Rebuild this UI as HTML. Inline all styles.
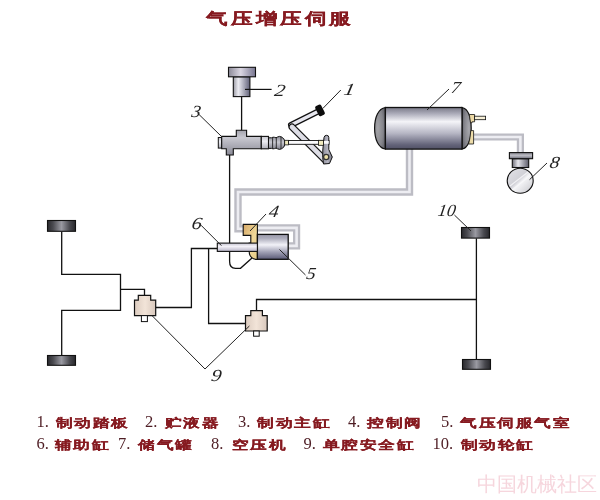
<!DOCTYPE html>
<html><head><meta charset="utf-8">
<style>
html,body{margin:0;padding:0;background:#fff;width:600px;height:500px;overflow:hidden}
svg{display:block;position:absolute;left:0;top:0;will-change:transform}
.t{font-family:"Liberation Sans",sans-serif;fill:#861a20;font-weight:bold;stroke:#861a20;stroke-width:0.25}
.num{font-family:"Liberation Serif",serif;fill:#4e1d24;font-size:16.5px}
.n{font-family:"Liberation Serif",serif;font-style:italic;fill:#222;font-size:17px}
</style></head>
<body>
<svg width="600" height="500" viewBox="0 0 600 500">
<defs>
  <linearGradient id="gCapH" x1="0" y1="0" x2="1" y2="0">
    <stop offset="0" stop-color="#8c8a98"/><stop offset="0.45" stop-color="#dad6e2"/><stop offset="1" stop-color="#777590"/>
  </linearGradient>
  <linearGradient id="gBodyH" x1="0" y1="0" x2="1" y2="0">
    <stop offset="0" stop-color="#9a9aa4"/><stop offset="0.3" stop-color="#ececf2"/><stop offset="1" stop-color="#62627a"/>
  </linearGradient>
  <linearGradient id="gCyl" x1="0" y1="0" x2="0" y2="1">
    <stop offset="0" stop-color="#a4a4ae"/><stop offset="0.3" stop-color="#c8c8d0"/><stop offset="1" stop-color="#8a8a96"/>
  </linearGradient>
  <linearGradient id="gCylL" x1="0" y1="0" x2="0" y2="1">
    <stop offset="0" stop-color="#c8c8d0"/><stop offset="0.4" stop-color="#ececf2"/><stop offset="1" stop-color="#b0b0ba"/>
  </linearGradient>
  <linearGradient id="gBell" x1="0" y1="0" x2="0" y2="1">
    <stop offset="0" stop-color="#8e8e98"/><stop offset="0.45" stop-color="#c8c8d0"/><stop offset="1" stop-color="#80808c"/>
  </linearGradient>
  <linearGradient id="gRod" x1="0" y1="0" x2="0" y2="1">
    <stop offset="0" stop-color="#c4c2d0"/><stop offset="0.4" stop-color="#f4f2f8"/><stop offset="1" stop-color="#b8b4c8"/>
  </linearGradient>
  <linearGradient id="gTank" x1="0" y1="0" x2="0" y2="1">
    <stop offset="0" stop-color="#7a7a88"/><stop offset="0.14" stop-color="#a9a9b7"/><stop offset="0.34" stop-color="#f4f4f8"/><stop offset="0.62" stop-color="#b6b6c4"/><stop offset="0.9" stop-color="#626278"/><stop offset="1" stop-color="#525266"/>
  </linearGradient>
  <radialGradient id="gEnd" cx="0.3" cy="0.5" r="0.8">
    <stop offset="0" stop-color="#a4a4a8"/><stop offset="0.6" stop-color="#86868c"/><stop offset="1" stop-color="#5c5c64"/>
  </radialGradient>
  <linearGradient id="gServo" x1="0" y1="0" x2="0" y2="1">
    <stop offset="0" stop-color="#9a9aaa"/><stop offset="0.15" stop-color="#ababba"/><stop offset="0.42" stop-color="#f2f2f8"/><stop offset="0.7" stop-color="#a2a2b6"/><stop offset="1" stop-color="#5a5a76"/>
  </linearGradient>
  <linearGradient id="gWheel" x1="0" y1="0" x2="1" y2="0">
    <stop offset="0" stop-color="#2a2a2e"/><stop offset="0.2" stop-color="#4a4a50"/><stop offset="0.5" stop-color="#9a9aa2"/><stop offset="0.8" stop-color="#48484e"/><stop offset="1" stop-color="#28282c"/>
  </linearGradient>
  <linearGradient id="gValve" x1="0" y1="0" x2="1" y2="0">
    <stop offset="0" stop-color="#dcccc0"/><stop offset="0.5" stop-color="#f2e4d8"/><stop offset="1" stop-color="#d8c8bd"/>
  </linearGradient>
  <linearGradient id="gYel" x1="0" y1="0" x2="1" y2="1">
    <stop offset="0" stop-color="#d6a868"/><stop offset="0.55" stop-color="#f0d898"/><stop offset="1" stop-color="#e6cc88"/>
  </linearGradient>
  <linearGradient id="gBall" x1="0" y1="0" x2="1" y2="1">
    <stop offset="0" stop-color="#e4e4e8"/><stop offset="0.45" stop-color="#d0d0d6"/><stop offset="0.55" stop-color="#f4f4f6"/><stop offset="1" stop-color="#c4c4ca"/>
  </linearGradient>
  <linearGradient id="gArm" x1="0" y1="0" x2="0" y2="1">
    <stop offset="0" stop-color="#cfcfd8"/><stop offset="0.5" stop-color="#f2f2f6"/><stop offset="1" stop-color="#c4c4ce"/>
  </linearGradient>
  <linearGradient id="gLever" x1="0" y1="0" x2="1" y2="0">
    <stop offset="0" stop-color="#8c8c98"/><stop offset="0.5" stop-color="#b4b4c0"/><stop offset="1" stop-color="#7a7a88"/>
  </linearGradient>
  <linearGradient id="gStem" x1="0" y1="0" x2="1" y2="0">
    <stop offset="0" stop-color="#6e6e78"/><stop offset="0.35" stop-color="#e6e6ec"/><stop offset="1" stop-color="#5c5c6a"/>
  </linearGradient>
  <linearGradient id="gCapC" x1="0" y1="0" x2="0" y2="1">
    <stop offset="0" stop-color="#8a8a94"/><stop offset="0.5" stop-color="#bcbcc4"/><stop offset="1" stop-color="#6c6c78"/>
  </linearGradient>
  <radialGradient id="gEnd2" cx="0.75" cy="0.5" r="0.9">
    <stop offset="0" stop-color="#a8a8ae"/><stop offset="0.55" stop-color="#85858c"/><stop offset="1" stop-color="#55555e"/>
  </radialGradient>
</defs>

<!-- Title -->
<g transform="translate(0 24.3) scale(1 0.74)">
<text x="206.5" y="0" class="t" font-size="21" letter-spacing="4.1">气压增压伺服</text>
</g>

<!-- ===== Pipes (gray double) ===== -->
<g fill="none" stroke-linejoin="miter">
  <path d="M409.5 149 V192 H238 V228.8 H244" stroke="#bcbcc4" stroke-width="7.4"/>
  <path d="M409.5 149 V192 H238 V228.8 H244" stroke="#ededf2" stroke-width="2.6"/>
  <path d="M257 227.9 H296.6 V245.9 H288" stroke="#bcbcc4" stroke-width="7.2"/>
  <path d="M257 227.9 H296.6 V245.9 H288" stroke="#ededf2" stroke-width="2.6"/>
  <path d="M474 137 H520.4 V153" stroke="#bcbcc4" stroke-width="7.2"/>
  <path d="M474 137 H520.4 V153" stroke="#ededf2" stroke-width="2.6"/>
</g>

<!-- ===== Black pipelines ===== -->
<g fill="none" stroke="#111" stroke-width="1.3">
  <path d="M241.6 96.6 V130.5"/>
  <path d="M229.6 155 V261.5 Q229.6 268.3 235.5 268.3 H240.5 L252 258"/>
  <path d="M61.7 231.6 V274.3 H120.5 V310.3 H61.7 V355.5"/>
  <path d="M120.5 289.3 H144.5 V295.5"/>
  <path d="M155.7 307.5 H191.4 V248.5 H217.5"/>
  <path d="M208.6 248.5 V323.5 H245.5"/>
  <path d="M256.5 310.7 V299.5 H476.4"/>
  <path d="M476.4 238.4 V359.5"/>
</g>

<!-- ===== Reservoir 2 ===== -->
<rect x="233.3" y="76.8" width="16.6" height="19.8" fill="url(#gBodyH)" stroke="#111" stroke-width="1.1"/>
<rect x="228.5" y="67.3" width="27" height="9.5" fill="url(#gCapH)" stroke="#111" stroke-width="1.1"/>
<line x1="245" y1="89.4" x2="271.6" y2="89.4" stroke="#111" stroke-width="1.2"/>

<!-- ===== Master cylinder 3 ===== -->
<rect x="218.3" y="137.5" width="3.4" height="10.6" fill="url(#gCylL)" stroke="#111" stroke-width="1"/>
<path d="M221.7 136.4 H236.3 V130.3 H246.6 V136.4 H261.3 V148.8 H233.3 V155 H226.3 V148.8 H221.7 Z" fill="url(#gCyl)" stroke="#111" stroke-width="1.1"/>
<rect x="261.3" y="136.4" width="7.2" height="12.4" fill="url(#gCylL)" stroke="#111" stroke-width="1.1"/>
<!-- bellows -->
<path d="M268.5 137.8 H271.5 Q273 136.8 274.5 137.3 Q276 138.4 277.5 137 Q279.5 135.8 281.5 137 Q284.5 138.5 284.7 141 V144.8 Q284.5 147.4 281.5 148.8 Q279.5 150 277.5 148.8 Q276 147.5 274.5 148.6 Q273 149.2 271.5 148.4 H268.5 Z" fill="url(#gBell)" stroke="#111" stroke-width="1"/>
<path d="M272.6 137.6 V148.6 M276.3 137.6 V148.4 M281 136.6 V149" stroke="#222" stroke-width="0.9"/>
<line x1="197.5" y1="113" x2="221.7" y2="136.7" stroke="#222" stroke-width="1"/>

<!-- ===== Pedal 1 ===== -->
<g stroke-linecap="round">
<line x1="291" y1="125" x2="320" y2="110.5" stroke="#111" stroke-width="6"/>
<line x1="291" y1="125" x2="320" y2="110.5" stroke="#e6e6ee" stroke-width="3.6"/>
<line x1="292" y1="127" x2="325" y2="160" stroke="#111" stroke-width="7"/>
<line x1="292" y1="127" x2="325" y2="160" stroke="#dedee6" stroke-width="4.6"/>
</g>
<rect x="288.5" y="140.5" width="40.5" height="3.8" fill="#fbfbfd" stroke="#111" stroke-width="0.9"/>
<path d="M324 137.5 Q324.5 135.3 326.5 135.3 Q328.8 135.3 328.8 137.5 V149.5 L332.3 157 L329.5 163.5 L323.5 164 Q322.3 158 322.8 150 Z" fill="url(#gLever)" stroke="#111" stroke-width="1"/>
<rect x="324" y="141" width="4.8" height="2.8" fill="#fbfbfd"/>
<rect x="284.7" y="140.3" width="3.8" height="4.6" fill="#f2ecc0" stroke="#111" stroke-width="0.8"/>
<rect x="318.5" y="140.3" width="5.1" height="5" fill="#f2ecc0" stroke="#111" stroke-width="0.8"/>
<circle cx="326.2" cy="157" r="2.6" fill="#ece0a8" stroke="#333" stroke-width="1.3"/>
<rect x="-3.3" y="-5.6" width="6.6" height="11.2" rx="1.8" transform="translate(320 110.4) rotate(-27)" fill="#0c0c0c"/>
<line x1="322.8" y1="108.5" x2="340.8" y2="90" stroke="#222" stroke-width="1"/>

<!-- ===== Tank 7 ===== -->
<path d="M385.4 107.5 C378.5 108.5 374.6 117 374.6 128.2 C374.6 139.5 378.5 148 385.4 149 Z" fill="url(#gEnd)" stroke="#111" stroke-width="1.2"/>
<path d="M462 107.5 C468 108.5 471.2 117 471.2 128.2 C471.2 139.5 468 148 462 149 Z" fill="url(#gEnd2)" stroke="#111" stroke-width="1.2"/>
<rect x="385.4" y="107.5" width="76.6" height="41.6" fill="url(#gTank)" stroke="#111" stroke-width="1.3"/>
<path d="M469.3 114.5 H474.6 V121.8 H472 V122.8 H470.5 Z" fill="#ecd8a4" stroke="#111" stroke-width="0.8"/>
<rect x="474.6" y="116.2" width="11" height="3.5" fill="#f6efd6" stroke="#111" stroke-width="0.8"/>
<path d="M470.8 130.6 H473.6 V144 H468.6 Q470.3 138 470.8 130.6 Z" fill="#eddcaa" stroke="#111" stroke-width="0.8"/>
<line x1="427" y1="110" x2="449" y2="89" stroke="#222" stroke-width="1"/>

<!-- ===== Compressor 8 ===== -->
<rect x="512.3" y="158.7" width="16.4" height="8.8" fill="url(#gStem)" stroke="#111" stroke-width="1.1"/>
<rect x="509.4" y="152.6" width="23.2" height="6.1" fill="url(#gCapC)" stroke="#111" stroke-width="1.1"/>
<ellipse cx="520.2" cy="180.8" rx="13" ry="12.5" fill="url(#gBall)" stroke="#111" stroke-width="1.1"/>
<path d="M510 186 L528 172 M512 190 L531 175" stroke="#f8f8fa" stroke-width="1.2" opacity="0.8"/>
<line x1="529.5" y1="179.7" x2="547" y2="163" stroke="#222" stroke-width="1"/>

<!-- ===== Control valve 4 + servo 5 + rod 6 ===== -->
<path d="M243.2 224.4 H257.4 V259.5 Q249.2 259 249.2 251.4 V243 H250.8 V235.4 H243.2 Z" fill="url(#gYel)" stroke="#111" stroke-width="1.1"/>
<rect x="257.4" y="234.4" width="30.8" height="24.9" fill="url(#gServo)" stroke="#111" stroke-width="1.3"/>
<rect x="217.3" y="243.1" width="40.1" height="8.3" fill="url(#gRod)" stroke="#111" stroke-width="1.1"/>
<line x1="266" y1="214" x2="250" y2="231" stroke="#222" stroke-width="1"/>
<line x1="279.5" y1="249.5" x2="305.5" y2="275" stroke="#222" stroke-width="1"/>
<line x1="201" y1="225.2" x2="221.4" y2="245.6" stroke="#222" stroke-width="1"/>

<!-- ===== Valves 9 ===== -->
<path d="M138.3 295.3 H150.7 V300.2 H155.7 V315.6 H134.5 V300.2 H138.3 Z" fill="url(#gValve)" stroke="#111" stroke-width="1.2"/>
<rect x="141.4" y="315.6" width="6" height="6" fill="#fff" stroke="#111" stroke-width="1"/>
<path d="M250.8 310.7 H262.4 V315.7 H267.2 V331 H245.5 V315.7 H250.8 Z" fill="url(#gValve)" stroke="#111" stroke-width="1.2"/>
<rect x="253.6" y="331" width="5.6" height="5.2" fill="#fff" stroke="#111" stroke-width="1"/>
<path d="M152 315.6 L205 369 L249.4 326" fill="none" stroke="#222" stroke-width="1"/>

<!-- ===== Wheel chambers 10 ===== -->
<rect x="47.5" y="220.5" width="28" height="10.8" fill="url(#gWheel)" stroke="#111" stroke-width="1.1"/>
<rect x="47.5" y="355.5" width="28" height="9.8" fill="url(#gWheel)" stroke="#111" stroke-width="1.1"/>
<rect x="461.5" y="227.5" width="28" height="10.6" fill="url(#gWheel)" stroke="#111" stroke-width="1.1"/>
<rect x="462.5" y="359.5" width="28" height="9.8" fill="url(#gWheel)" stroke="#111" stroke-width="1.1"/>
<line x1="454.4" y1="215" x2="471" y2="231" stroke="#222" stroke-width="1"/>

<g id="labels">
<text class="n" transform="translate(343 94.7) scale(1.3 1) skewX(-8)" x="0" y="0">1</text>
<text class="n" transform="translate(273.7 95.8) scale(1.25 1) skewX(-8)" x="0" y="0">2</text>
<text class="n" transform="translate(191 116.7) scale(1.08 1) skewX(-8)" x="0" y="0">3</text>
<text class="n" transform="translate(268.3 216.5) scale(1.15 1) skewX(-8)" x="0" y="0">4</text>
<text class="n" transform="translate(305.8 278.6) scale(1.1 1) skewX(-8)" x="0" y="0">5</text>
<text class="n" transform="translate(191 229.3) scale(1.2 1) skewX(-8)" x="0" y="0">6</text>
<text class="n" transform="translate(450.5 92.5) scale(1.1 1) skewX(-8)" x="0" y="0">7</text>
<text class="n" transform="translate(549 167.8) scale(1.15 1) skewX(-8)" x="0" y="0">8</text>
<text class="n" transform="translate(210.5 381.2) scale(1.2 1) skewX(-8)" x="0" y="0">9</text>
<text class="n" transform="translate(437.3 215.5) scale(1.04 1) skewX(-8)" x="0" y="0">10</text>
</g>
<!-- ===== Legend ===== -->
<g class="num">
  <text x="36.5" y="427">1.</text>
  <text x="145" y="427">2.</text>
  <text x="238" y="427">3.</text>
  <text x="348" y="427">4.</text>
  <text x="441" y="427">5.</text>
  <text x="36.5" y="449">6.</text>
  <text x="118" y="449">7.</text>
  <text x="211" y="449">8.</text>
  <text x="303.5" y="449">9.</text>
  <text x="432.5" y="449">10.</text>
</g>
<g transform="translate(0 426.6) scale(1 0.72)"><text x="56" y="0" class="t" font-size="16" letter-spacing="2.4">制动踏板</text></g>
<g transform="translate(0 426.6) scale(1 0.72)"><text x="165" y="0" class="t" font-size="16" letter-spacing="2.4">贮液器</text></g>
<g transform="translate(0 426.6) scale(1 0.72)"><text x="257.5" y="0" class="t" font-size="16" letter-spacing="2.4">制动主缸</text></g>
<g transform="translate(0 426.6) scale(1 0.72)"><text x="367.5" y="0" class="t" font-size="16" letter-spacing="2.4">控制阀</text></g>
<g transform="translate(0 426.6) scale(1 0.72)"><text x="460.5" y="0" class="t" font-size="16" letter-spacing="2.4">气压伺服气室</text></g>
<g transform="translate(0 448.5) scale(1 0.72)"><text x="55" y="0" class="t" font-size="16" letter-spacing="2.4">辅助缸</text></g>
<g transform="translate(0 448.5) scale(1 0.72)"><text x="138.5" y="0" class="t" font-size="16" letter-spacing="2.4">储气罐</text></g>
<g transform="translate(0 448.5) scale(1 0.72)"><text x="232" y="0" class="t" font-size="16" letter-spacing="2.4">空压机</text></g>
<g transform="translate(0 448.5) scale(1 0.72)"><text x="323" y="0" class="t" font-size="16" letter-spacing="2.4">单腔安全缸</text></g>
<g transform="translate(0 448.5) scale(1 0.72)"><text x="461" y="0" class="t" font-size="16" letter-spacing="2.4">制动轮缸</text></g>
<text x="477" y="491" font-family="Liberation Sans, sans-serif" font-size="20" fill="#f6d6dd">中国机械社区</text>
</svg>
</body></html>
